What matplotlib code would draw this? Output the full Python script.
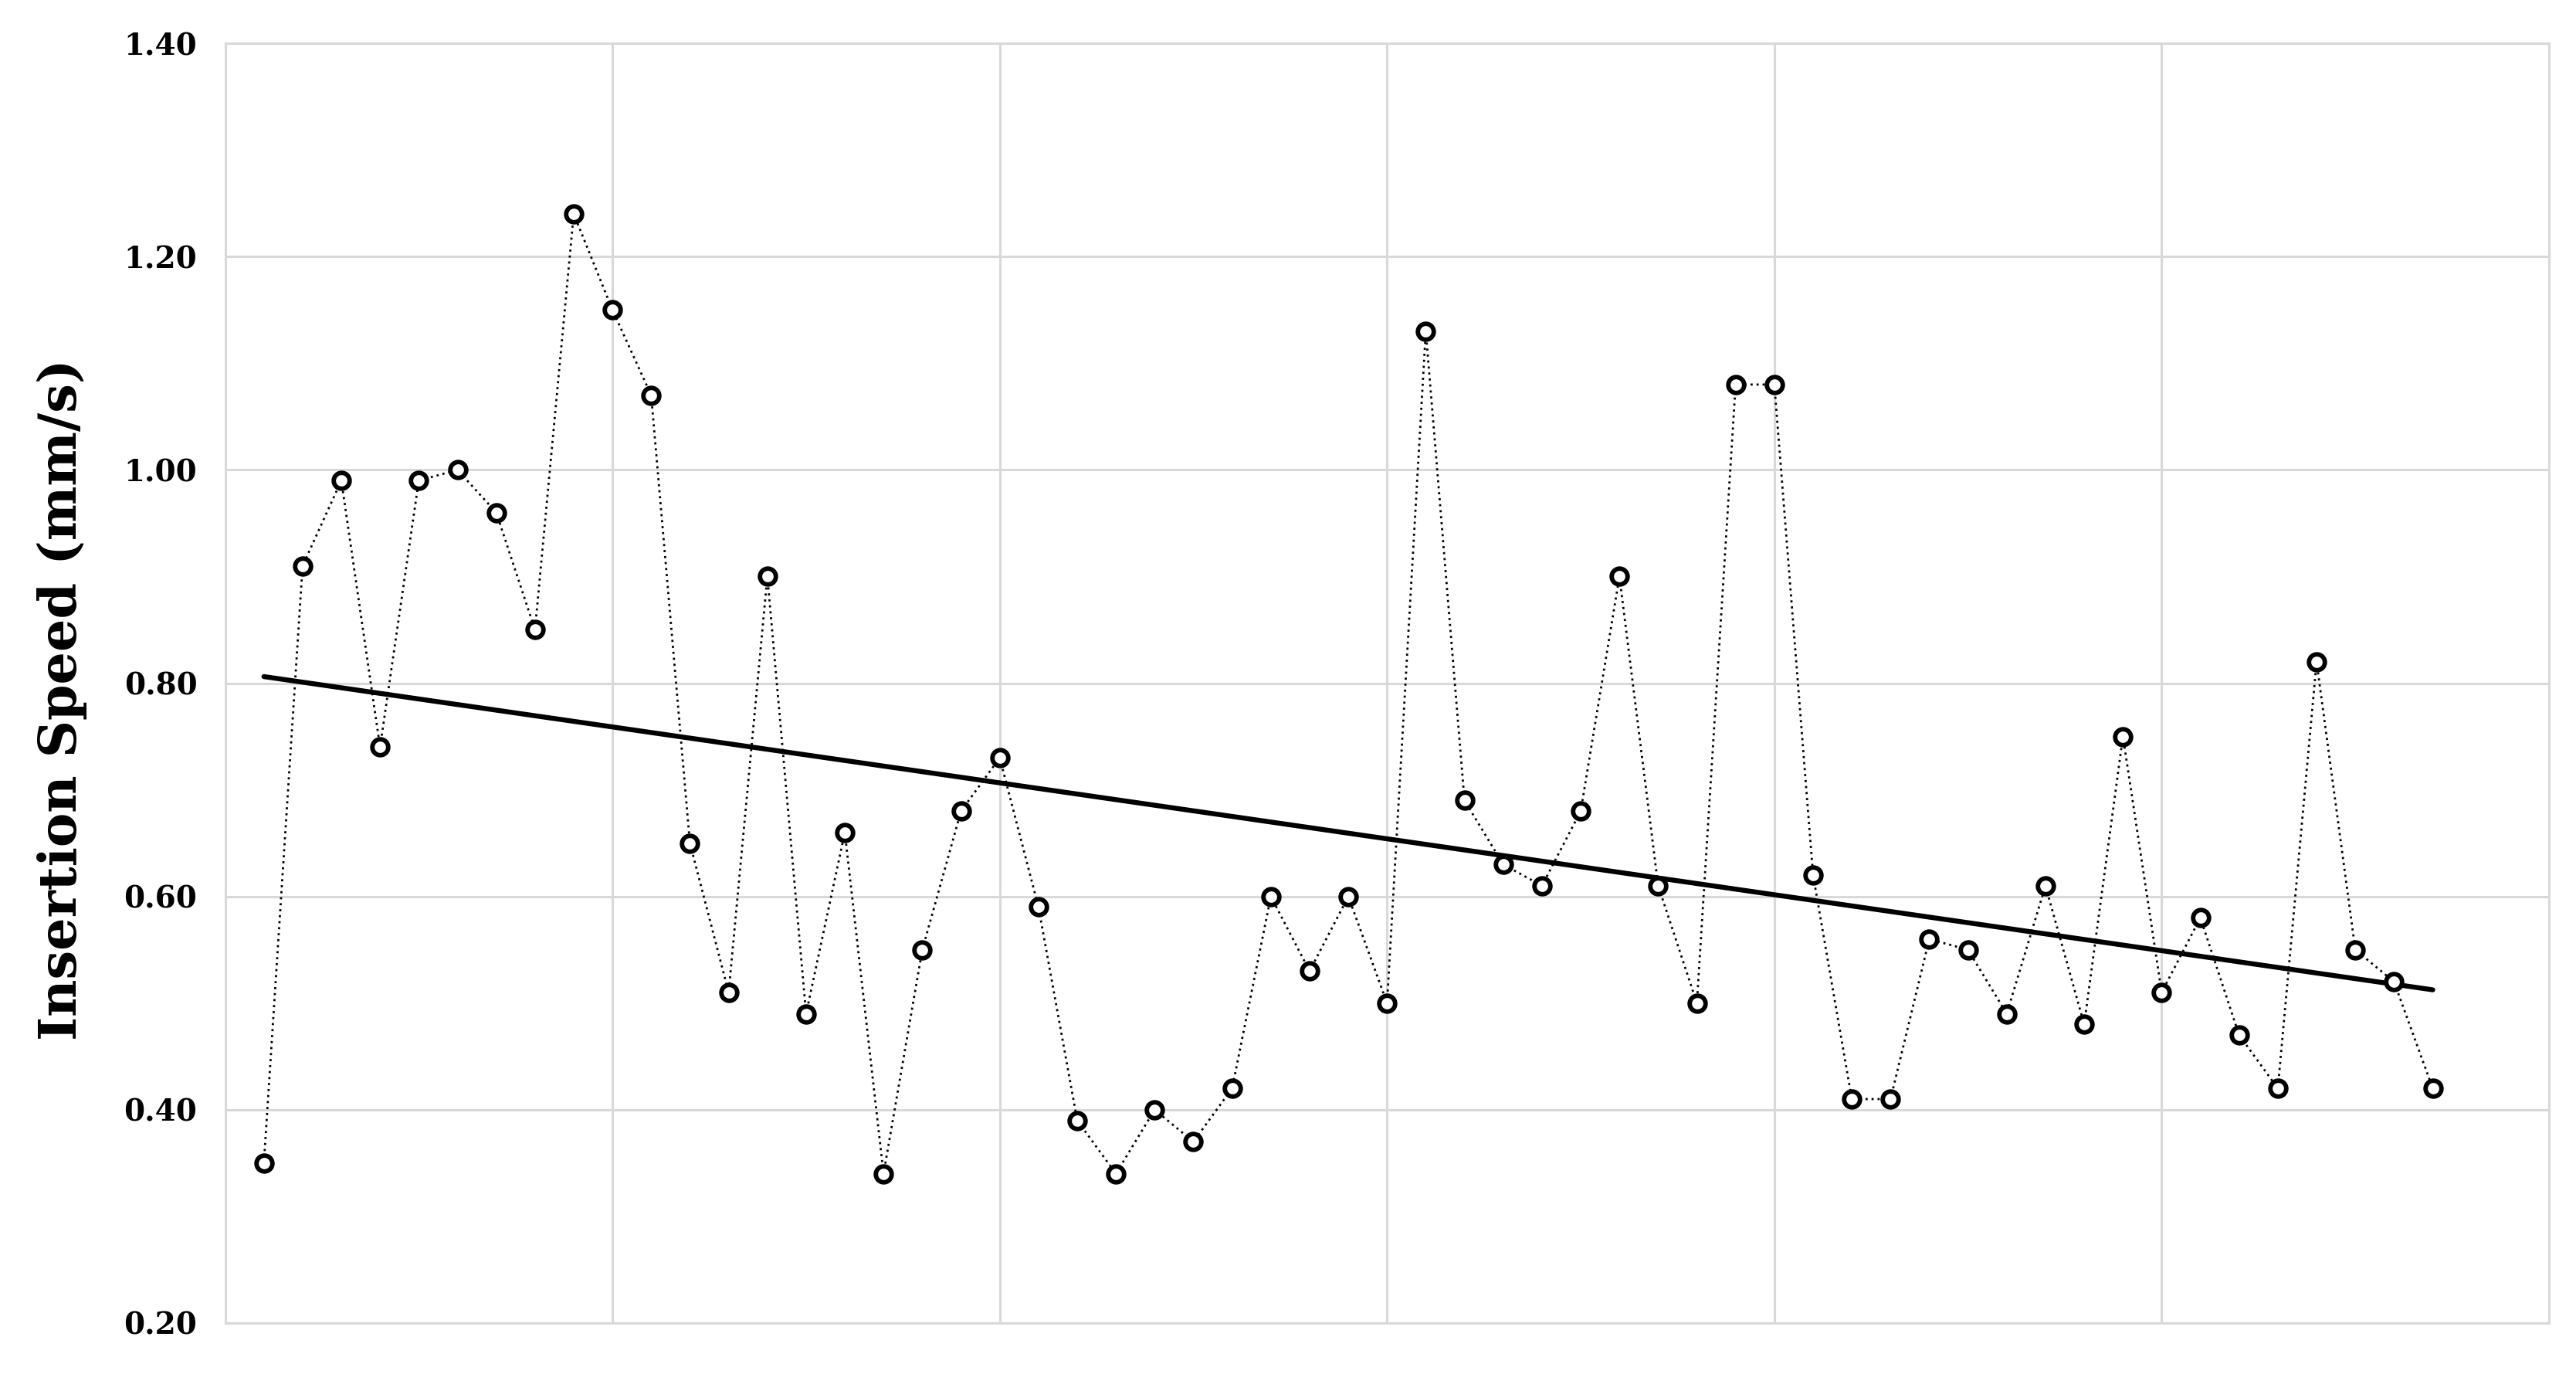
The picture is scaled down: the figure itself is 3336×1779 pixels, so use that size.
import numpy as np
import matplotlib
matplotlib.use("Agg")
import matplotlib.pyplot as plt

# ---- data ----
trial = list(range(1, 58))
speed = [0.35, 0.91, 0.99, 0.74, 0.99, 1.00, 0.96, 0.85, 1.24, 1.15,
         1.07, 0.65, 0.51, 0.90, 0.49, 0.66, 0.34, 0.55, 0.68, 0.73,
         0.59, 0.39, 0.34, 0.40, 0.37, 0.42, 0.60, 0.53, 0.60, 0.50,
         1.13, 0.69, 0.63, 0.61, 0.68, 0.90, 0.61, 0.50, 1.08, 1.08,
         0.62, 0.41, 0.41, 0.56, 0.55, 0.49, 0.61, 0.48, 0.75, 0.51,
         0.58, 0.47, 0.42, 0.82, 0.55, 0.52, 0.42]
y_ticks = [0.20, 0.40, 0.60, 0.80, 1.00, 1.20, 1.40]
y_tick_labels = ["0.20", "0.40", "0.60", "0.80", "1.00", "1.20", "1.40"]
x_grid = [10, 20, 30, 40, 50]
y_label = "Insertion Speed (mm/s)"

x = np.array(trial, dtype=float)
y = np.array(speed)
slope, intercept = np.polyfit(x, y, 1)
trend_x = np.array([x.min(), x.max()])
trend_y = slope * trend_x + intercept

fig = plt.figure(figsize=(16.68, 8.895), dpi=200)
ax = fig.add_axes([0.0874, 0.0371, 0.9021, 0.9314])

grid_c = "#d9d9d9"
ax.set_xlim(0, 60)
ax.set_ylim(0.20, 1.40)
ax.set_yticks(y_ticks)
ax.set_yticklabels(y_tick_labels, family="DejaVu Serif", fontweight="bold",
                   fontsize=14)
ax.set_xticks(x_grid)
ax.set_xticklabels([])
ax.tick_params(axis="both", length=0, pad=13)
ax.grid(True, color=grid_c, linewidth=1.1, zorder=0)
ax.set_axisbelow(True)
for s in ax.spines.values():
    s.set_color(grid_c)
    s.set_linewidth(1.1)

ax.plot(x, y, linestyle=(0, (1, 1.8)), color="black", linewidth=1.0,
        marker="o", markersize=7.4, markerfacecolor="white",
        markeredgecolor="black", markeredgewidth=2.1, zorder=3)
ax.plot(trend_x, trend_y, color="black", linewidth=2.3, zorder=2,
        solid_capstyle="round")

ax.set_ylabel(y_label, family="DejaVu Serif", fontweight="bold", fontsize=24)
ax.yaxis.set_label_coords(-0.0595, 0.487)

fig.savefig("out.png", dpi=200, facecolor="white")
